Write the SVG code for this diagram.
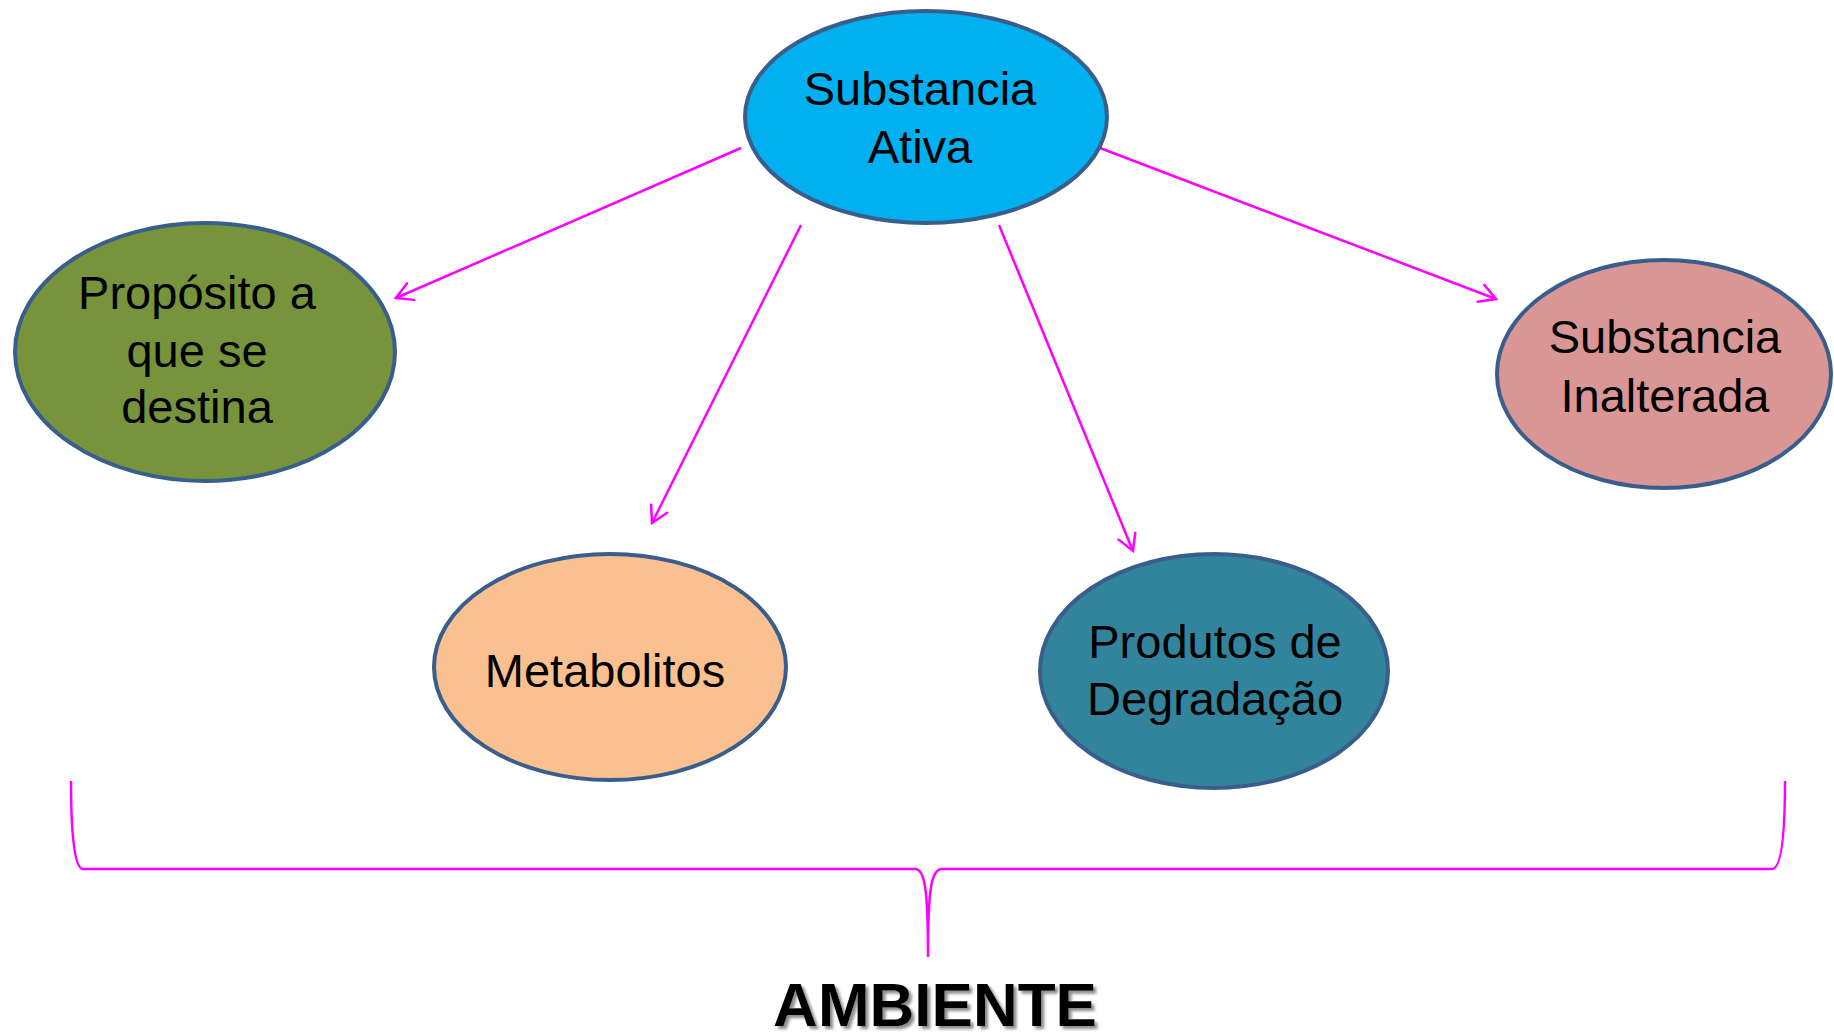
<svg xmlns="http://www.w3.org/2000/svg" width="1834" height="1034" viewBox="0 0 1834 1034">
  <style>
    .node { stroke: #3A5E8C; stroke-width: 4; }
    .lbl { font-family: "Liberation Sans", Arial, sans-serif; font-size: 47px; fill: #000; text-anchor: middle; }
    .conn { stroke: #FF00FF; stroke-width: 2.5; fill: none; }
    .title { font-family: "Liberation Sans", Arial, sans-serif; font-size: 62px; font-weight: bold; fill: #000; text-anchor: middle; }
  </style>
  <defs>
    <marker id="arrow" markerUnits="userSpaceOnUse" markerWidth="24" markerHeight="24" viewBox="-20 -12 24 24" refX="0" refY="0" orient="auto">
      <path d="M -16 -9 L 0 0 L -16 9" fill="none" stroke="#FF00FF" stroke-width="2.5" stroke-linecap="round" stroke-linejoin="miter"/>
    </marker>
    <filter id="shadow" x="-10%" y="-30%" width="130%" height="160%">
      <feDropShadow dx="3" dy="3" stdDeviation="1.6" flood-color="#7f7f7f" flood-opacity="0.9"/>
    </filter>
  </defs>
  <rect width="1834" height="1034" fill="#FFFFFF"/>

  <g id="connectors">
    <line class="conn" x1="741" y1="148" x2="396" y2="298" marker-end="url(#arrow)"/>
    <line class="conn" x1="801" y1="225" x2="652" y2="523" marker-end="url(#arrow)"/>
    <line class="conn" x1="999" y1="225" x2="1133" y2="551" marker-end="url(#arrow)"/>
    <line class="conn" x1="1100" y1="148" x2="1496" y2="299" marker-end="url(#arrow)"/>
    <path id="brace" class="conn" d="M 71 781 C 71 830 74 869 83 869 L 915 869 C 925 869 928 890 928 957 C 928 890 931 869 942 869 L 1772 869 C 1782 869 1785 830 1785 781"/>
  </g>

  <g id="node-substancia-ativa">
    <ellipse class="node" cx="926" cy="117" rx="181" ry="106" fill="#00B0F0"/>
    <text class="lbl" x="920" y="105">Substancia</text>
    <text class="lbl" x="920" y="163">Ativa</text>
  </g>

  <g id="node-proposito">
    <ellipse class="node" cx="205" cy="352" rx="190" ry="129" fill="#77933C"/>
    <text class="lbl" x="197" y="309">Propósito a</text>
    <text class="lbl" x="197" y="367">que se</text>
    <text class="lbl" x="197" y="423">destina</text>
  </g>

  <g id="node-substancia-inalterada">
    <ellipse class="node" cx="1664" cy="374" rx="167" ry="114" fill="#D99694"/>
    <text class="lbl" x="1665" y="353">Substancia</text>
    <text class="lbl" x="1665" y="412">Inalterada</text>
  </g>

  <g id="node-metabolitos">
    <ellipse class="node" cx="610" cy="667" rx="176" ry="113" fill="#FAC090"/>
    <text class="lbl" x="605" y="687">Metabolitos</text>
  </g>

  <g id="node-produtos">
    <ellipse class="node" cx="1214" cy="671" rx="174" ry="117" fill="#31849B"/>
    <text class="lbl" x="1215" y="658">Produtos de</text>
    <text class="lbl" x="1215" y="715">Degradação</text>
  </g>

  <g id="label-ambiente">
    <text class="title" x="935" y="1026" filter="url(#shadow)">AMBIENTE</text>
  </g>
</svg>
